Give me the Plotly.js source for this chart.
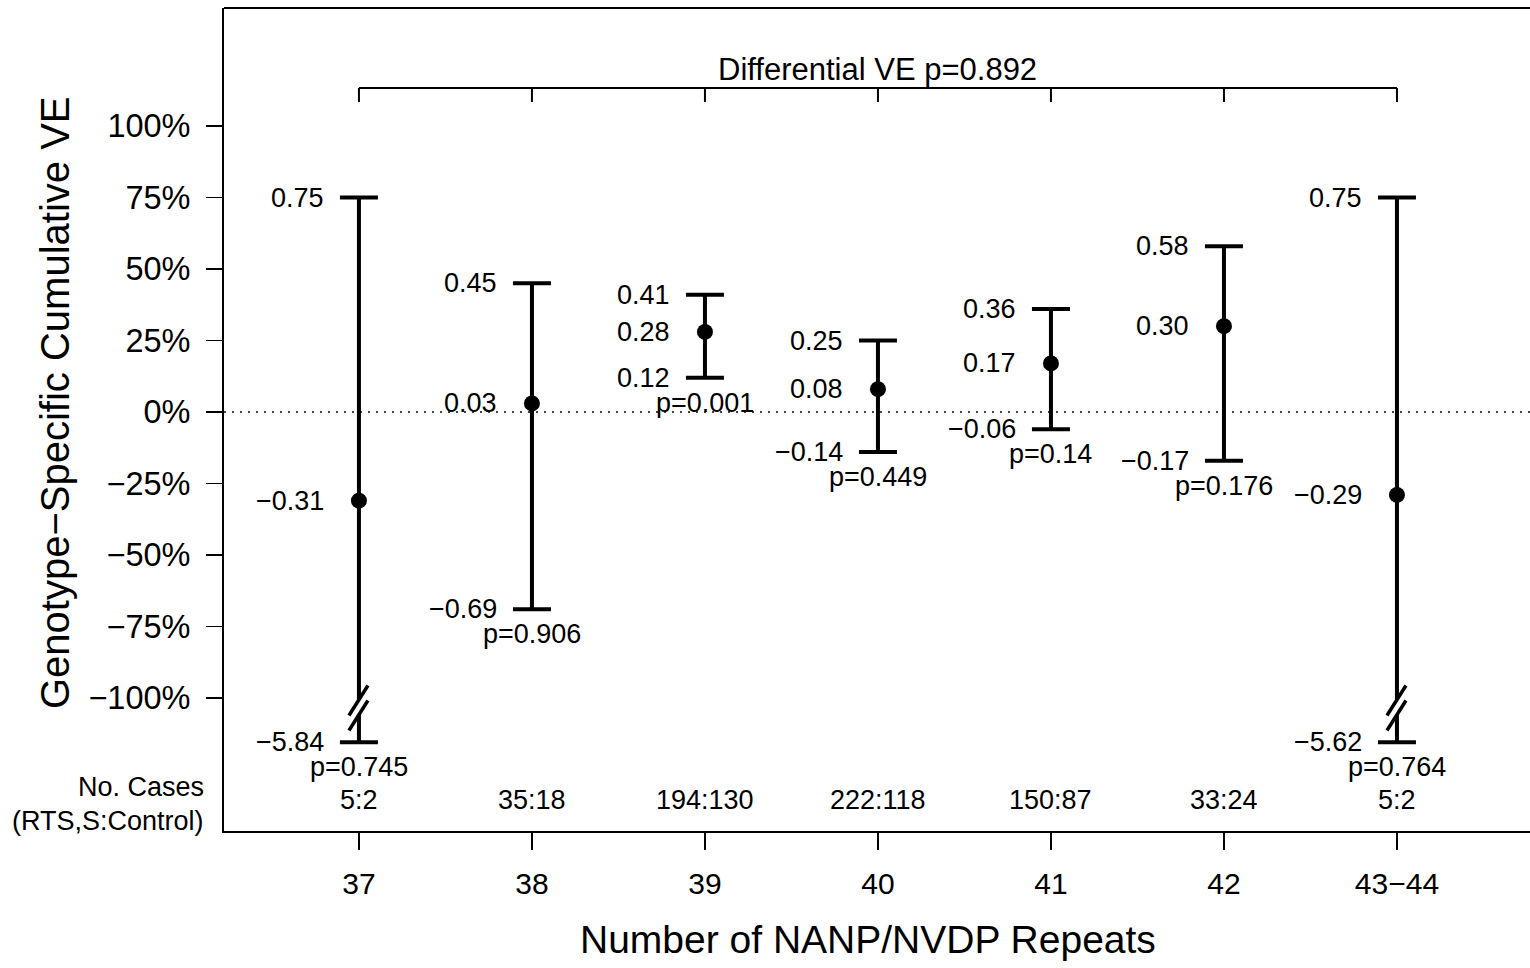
<!DOCTYPE html>
<html>
<head>
<meta charset="utf-8">
<script src="https://cdn.plot.ly/plotly-3.0.1.min.js"></script>
<style>html,body{margin:0;padding:0;background:#fff;}#chart{width:1530px;height:968px;}</style>
</head>
<body>
<div id="chart"></div>
<script>
// ---- data ----
const categories = ['37', '38', '39', '40', '41', '42', '43\u221244'];
const estimate   = [-0.31, 0.03, 0.28, 0.08, 0.17, 0.30, -0.29];
const upper      = [0.75, 0.45, 0.41, 0.25, 0.36, 0.58, 0.75];
const lower      = [-5.84, -0.69, 0.12, -0.14, -0.06, -0.17, -5.62];
const pValues    = ['0.745', '0.906', '0.001', '0.449', '0.14', '0.176', '0.764'];
const cases      = ['5:2', '35:18', '194:130', '222:118', '150:87', '33:24', '5:2'];
const yTickVals  = [-1, -0.75, -0.5, -0.25, 0, 0.25, 0.5, 0.75, 1];
const differentialP = '0.892';

// ---- layout constants ----
const FONT = 'Liberation Sans, Arial, Helvetica, sans-serif';
const AXIS_FLOOR = -1.0;      // values below this are drawn at the break position
const BREAK_POS = -1.155;     // where truncated lower limits are drawn
const BREAK_MARK_Y = -1.033;  // centre of the "//" break mark
const BRACKET_Y = 1.133, BRACKET_TICK_Y = 1.084, BRACKET_TEXT_Y = 1.196;

const fmt = v => (v < 0 ? '\u2212' : '') + Math.abs(v).toFixed(2);
const pct = v => (v < 0 ? '\u2212' : '') + Math.abs(Math.round(v * 100)) + '%';

const plotLower = lower.map(v => (v < AXIS_FLOOR ? BREAK_POS : v));

const trace = {
  type: 'scatter', mode: 'markers',
  x: categories, y: estimate,
  marker: {size: 16, color: 'black'},
  error_y: {
    type: 'data', symmetric: false,
    array: upper.map((u, i) => u - estimate[i]),
    arrayminus: estimate.map((e, i) => e - plotLower[i]),
    color: 'black', thickness: 4, width: 19
  },
  hoverinfo: 'skip', showlegend: false
};

const annotations = [];
const txt = (o) => Object.assign({showarrow: false, borderpad: 0, font: {family: FONT, size: 27, color: 'black'}}, o);

categories.forEach((c, i) => {
  annotations.push(txt({x: i, y: upper[i], xref: 'x', yref: 'y', text: fmt(upper[i]), xanchor: 'right', yanchor: 'middle', xshift: -34}));
  annotations.push(txt({x: i, y: estimate[i], xref: 'x', yref: 'y', text: fmt(estimate[i]), xanchor: 'right', yanchor: 'middle', xshift: -34}));
  annotations.push(txt({x: i, y: plotLower[i], xref: 'x', yref: 'y', text: fmt(lower[i]), xanchor: 'right', yanchor: 'middle', xshift: -34}));
  annotations.push(txt({x: i, y: plotLower[i], xref: 'x', yref: 'y', text: 'p=' + pValues[i], xanchor: 'center', yanchor: 'middle', yshift: -25}));
  annotations.push(txt({x: i, y: 0.0377, xref: 'x', yref: 'paper', text: cases[i], xanchor: 'center', yanchor: 'middle'}));
});

annotations.push(txt({x: -0.0145, y: 0.0535, xref: 'paper', yref: 'paper', text: 'No. Cases', xanchor: 'right', yanchor: 'middle'}));
annotations.push(txt({x: -0.0145, y: 0.0122, xref: 'paper', yref: 'paper', text: '(RTS,S:Control)', xanchor: 'right', yanchor: 'middle'}));
annotations.push(txt({x: (categories.length - 1) / 2, y: BRACKET_TEXT_Y, xref: 'x', yref: 'y', text: 'Differential VE p=' + differentialP, xanchor: 'center', yanchor: 'middle', font: {family: FONT, size: 31, color: 'black'}}));
annotations.push(txt({x: 0.493, y: -0.1324, xref: 'paper', yref: 'paper', text: 'Number of NANP/NVDP Repeats', xanchor: 'center', yanchor: 'middle', font: {family: FONT, size: 39, color: 'black'}}));
annotations.push(txt({x: -0.1294, y: 0.52, xref: 'paper', yref: 'paper', text: 'Genotype\u2212Specific Cumulative VE', textangle: -90, xanchor: 'center', yanchor: 'middle', font: {family: FONT, size: 40, color: 'black'}}));

const shapes = [];
// dotted zero reference line
shapes.push({type: 'line', xref: 'paper', x0: 0, x1: 1, yref: 'y', y0: 0, y1: 0, layer: 'below', line: {color: '#444', width: 2, dash: '2px,6px'}});
// top border of the box
shapes.push({type: 'line', xref: 'paper', x0: 0, x1: 1, yref: 'paper', y0: 1, y1: 1, line: {color: 'black', width: 2}});
// differential VE bracket
shapes.push({type: 'line', xref: 'x', x0: 0, x1: categories.length - 1, yref: 'y', y0: BRACKET_Y, y1: BRACKET_Y, line: {color: 'black', width: 2}});
categories.forEach((c, i) => {
  shapes.push({type: 'line', xref: 'x', x0: i, x1: i, yref: 'y', y0: BRACKET_Y, y1: BRACKET_TICK_Y, line: {color: 'black', width: 2}});
});
// axis-break marks on truncated intervals
categories.forEach((c, i) => {
  if (lower[i] >= AXIS_FLOOR) return;
  const base = {xref: 'x', yref: 'y', xsizemode: 'pixel', ysizemode: 'pixel', xanchor: i, yanchor: BREAK_MARK_Y};
  shapes.push(Object.assign({type: 'path', path: 'M-10,-8 L9,22 L9,7 L-10,-23 Z', fillcolor: 'white', line: {width: 0}}, base));
  shapes.push(Object.assign({type: 'line', x0: -10, x1: 9, y0: -8, y1: 22, line: {color: 'black', width: 3.5}}, base));
  shapes.push(Object.assign({type: 'line', x0: -10, x1: 9, y0: -23, y1: 7, line: {color: 'black', width: 3.5}}, base));
});

const layout = {
  width: 1530, height: 968,
  margin: {l: 224, r: 0, t: 8, b: 137},
  paper_bgcolor: 'white', plot_bgcolor: 'white',
  font: {family: FONT, color: 'black'},
  showlegend: false,
  xaxis: {
    type: 'category', range: [-0.780, 6.769],
    showgrid: false, zeroline: false,
    showline: true, linecolor: 'black', linewidth: 2,
    ticks: 'outside', ticklen: 17, tickwidth: 1.5, tickcolor: 'black',
    tickfont: {family: FONT, size: 30, color: 'black'},
    ticklabelstandoff: 8,
    fixedrange: true
  },
  yaxis: {
    range: [-1.465, 1.4126],
    showgrid: false, zeroline: false,
    showline: true, linecolor: 'black', linewidth: 2,
    ticks: 'outside', ticklen: 16, tickwidth: 1.5, tickcolor: 'black',
    tickmode: 'array', tickvals: yTickVals, ticktext: yTickVals.map(pct),
    tickfont: {family: FONT, size: 32.5, color: 'black'},
    ticklabelstandoff: 9,
    fixedrange: true
  },
  shapes: shapes,
  annotations: annotations
};

Plotly.newPlot('chart', [trace], layout, {staticPlot: true, displayModeBar: false});
</script>
</body>
</html>
